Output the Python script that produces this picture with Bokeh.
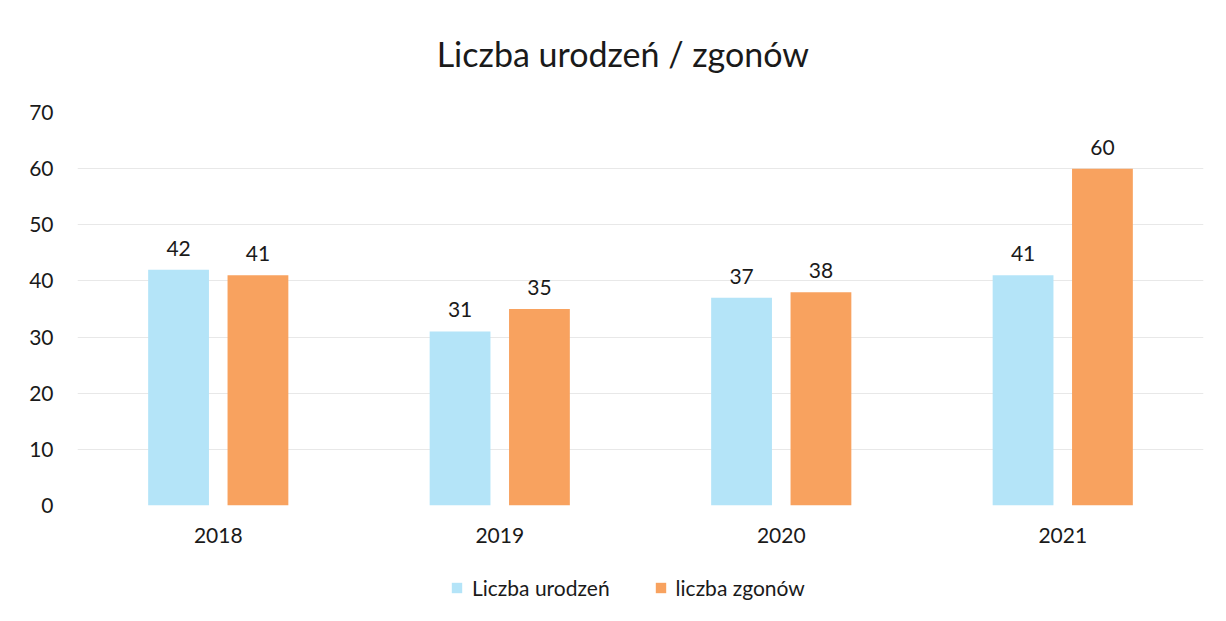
from bokeh.plotting import figure
from bokeh.layouts import column
from bokeh.models import ColumnDataSource, FactorRange, Legend, LegendItem, Range1d, Label
from bokeh.transform import dodge
from bokeh.core.properties import value
from bokeh.embed import file_html
from bokeh.resources import INLINE

years = ["2018", "2019", "2020", "2021"]
births = [42, 31, 37, 41]
deaths = [41, 35, 38, 60]
series_names = ["Liczba urodzeń", "liczba zgonów"]
title_text = "Liczba urodzeń / zgonów"
y_ticks = [0, 10, 20, 30, 40, 50, 60, 70]

FONT = "Lato"
BLUE = "#b4e4f8"
ORANGE = "#f8a25f"
TXT = "#1a1a1a"

src = ColumnDataSource(dict(
    years=years, births=births, deaths=deaths,
    births_txt=[str(v) for v in births], deaths_txt=[str(v) for v in deaths],
))

# title strip
pt = figure(width=1210, height=100, output_backend="svg", toolbar_location=None,
            x_axis_type=None, y_axis_type=None, x_range=Range1d(0, 1210), y_range=Range1d(0, 100),
            min_border=0)
pt.outline_line_color = None
pt.xgrid.grid_line_color = None
pt.ygrid.grid_line_color = None
pt.add_layout(Label(x=586, y=47, text=title_text, text_align="center", text_baseline="middle",
                    text_font=FONT, text_font_size="34px", text_color=TXT))

# main chart
p = figure(x_range=FactorRange(*years), y_range=Range1d(0, 70),
           width=1210, height=460, output_backend="svg", toolbar_location=None,
           min_border_left=77, min_border_right=7, min_border_top=12, min_border_bottom=55)
p.title = None

r1 = p.vbar(x=dodge("years", -0.141, range=p.x_range), top="births", width=0.216,
            source=src, fill_color=BLUE, line_color=None)
r2 = p.vbar(x=dodge("years", 0.141, range=p.x_range), top="deaths", width=0.216,
            source=src, fill_color=ORANGE, line_color=None)

for col, off in (("births", -0.141), ("deaths", 0.141)):
    p.text(x=dodge("years", off, range=p.x_range), y=col, text=col + "_txt", source=src,
           text_align="center", text_baseline="bottom", y_offset=-14,
           text_font=value(FONT), text_font_size="21px", text_color=TXT)

p.yaxis.ticker = y_ticks
p.xaxis.major_label_text_font = FONT
p.yaxis.major_label_text_font = FONT
p.xaxis.major_label_text_font_size = "21px"
p.yaxis.major_label_text_font_size = "21px"
p.xaxis.major_label_text_color = TXT
p.yaxis.major_label_text_color = TXT
p.yaxis.major_label_standoff = 18
p.xaxis.major_label_standoff = 16
for ax in (p.xaxis, p.yaxis):
    ax.axis_line_color = None
    ax.major_tick_line_color = None
    ax.minor_tick_line_color = None
p.xgrid.grid_line_color = None
p.ygrid.grid_line_color = "#e8e8e8"
p.ygrid.grid_line_width = 1
p.outline_line_color = None
p.x_range.range_padding = 0.0
p.x_range.group_padding = 0.0

# legend strip below the chart (its bars lie far outside its visible range; only the legend shows)
pl = figure(width=1210, height=50, output_backend="svg", toolbar_location=None,
            x_axis_type=None, y_axis_type=None, x_range=FactorRange(*years),
            y_range=Range1d(1000, 1001), min_border=0)
pl.outline_line_color = None
pl.xgrid.grid_line_color = None
pl.ygrid.grid_line_color = None
l1 = pl.vbar(x="years", top="births", width=0.2, source=src, fill_color=BLUE, line_color=None)
l2 = pl.vbar(x="years", top="deaths", width=0.2, source=src, fill_color=ORANGE, line_color=None)
legend = Legend(items=[LegendItem(label=series_names[0], renderers=[l1], index=0),
                       LegendItem(label=series_names[1], renderers=[l2], index=0)],
                orientation="horizontal", location=(373, 10),
                label_text_font=FONT, label_text_font_size="21px", label_text_color=TXT,
                glyph_width=13, glyph_height=13, spacing=44, label_standoff=9,
                border_line_color=None, background_fill_alpha=0, margin=0, padding=2)
pl.add_layout(legend, "center")

open("out.html", "w").write(file_html(column(pt, p, pl), INLINE))
